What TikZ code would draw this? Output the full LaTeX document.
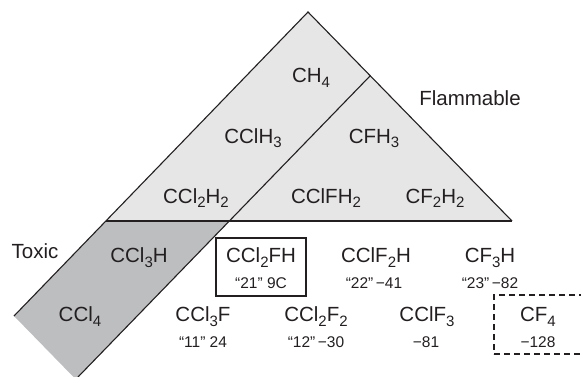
\documentclass[tikz,border=0pt]{standalone}
\usepackage{fontspec}
\setmainfont{Liberation Sans}
\definecolor{lightg}{HTML}{E6E6E7}
\definecolor{darkg}{HTML}{BDBEC0}
\definecolor{ink}{HTML}{231F20}
\newcommand\sbs[1]{\raisebox{-5pt}{\fontsize{15}{15}\selectfont #1}}
\begin{document}
\begin{tikzpicture}[x=1pt,y=-1pt,
  lbl/.style={inner sep=0pt, anchor=base, text=ink, font=\fontsize{20.5}{24}\selectfont},
  sml/.style={inner sep=0pt, anchor=base, text=ink, font=\fontsize{15.5}{18}\selectfont},
  edge/.style={draw=ink, line width=1.1pt},
  box/.style={draw=ink, line width=1.1pt, inner sep=0pt}]
\useasboundingbox (0,0) rectangle (581,377);
\clip (0,0) rectangle (581,377);
\coordinate (A) at (308,12);
\coordinate (BL) at (106,221);
\coordinate (BR) at (512,221);
\coordinate (K) at (14,316);
\coordinate (M) at (370,76);
\coordinate (N) at (229.3,221);
\coordinate (E1) at (78,377);
\coordinate (E2) at (73.5,377);
\fill[lightg] (A) -- (BL) -- (BR) -- cycle;
\fill[darkg] (BL) -- (N) -- (E1) -- (E2) -- (K) -- cycle;
\draw[edge, line join=miter] (K) -- (A) -- (BR);
\draw[edge] (BL) -- (BR);
\draw[edge] (M) -- (E1);
\node[box, minimum width=90, minimum height=58] (b1) at (261,267) {};
\node[box, dashed, dash pattern=on 6pt off 4pt, minimum width=96, minimum height=59] (b2) at (542,324.5) {};
\node[lbl] (ch4) at (311,83) {CH\sbs{4}};
\node[lbl] (cclh3) at (253,143) {CClH\sbs{3}};
\node[lbl] (cfh3) at (374,143) {CFH\sbs{3}};
\node[lbl] (flam) at (470,106) {Flammable};
\node[lbl] (ccl2h2) at (196,203) {CCl\sbs{2}H\sbs{2}};
\node[lbl] (cclfh2) at (326,203) {CClFH\sbs{2}};
\node[lbl] (cf2h2) at (435,203) {CF\sbs{2}H\sbs{2}};
\node[lbl] (tox) at (35,258) {Toxic};
\node[lbl] (ccl3h) at (139,262) {CCl\sbs{3}H};
\node[lbl] (ccl2fh) at (261,262) {CCl\sbs{2}FH};
\node[sml] (n21) at (261,288) {“21” 9C};
\node[lbl] (cclf2h) at (376,262) {CClF\sbs{2}H};
\node[sml] (n22) at (374,288) {“22”\kern2.5pt−41};
\node[lbl] (cf3h) at (490,262) {CF\sbs{3}H};
\node[sml] (n23) at (490,288) {“23”\kern2.5pt−82};
\node[lbl] (ccl4) at (80,321) {CCl\sbs{4}};
\node[lbl] (ccl3f) at (203,321) {CCl\sbs{3}F};
\node[sml] (n11) at (203,347) {“11” 24};
\node[lbl] (ccl2f2) at (316,321) {CCl\sbs{2}F\sbs{2}};
\node[sml] (n12) at (316,347) {“12”\kern2.5pt−30};
\node[lbl] (cclf3) at (427,321) {CClF\sbs{3}};
\node[sml] (n81) at (426,347) {−81};
\node[lbl] (cf4) at (538,321) {CF\sbs{4}};
\node[sml] (n128) at (538,347) {−128};
\end{tikzpicture}
\end{document}
